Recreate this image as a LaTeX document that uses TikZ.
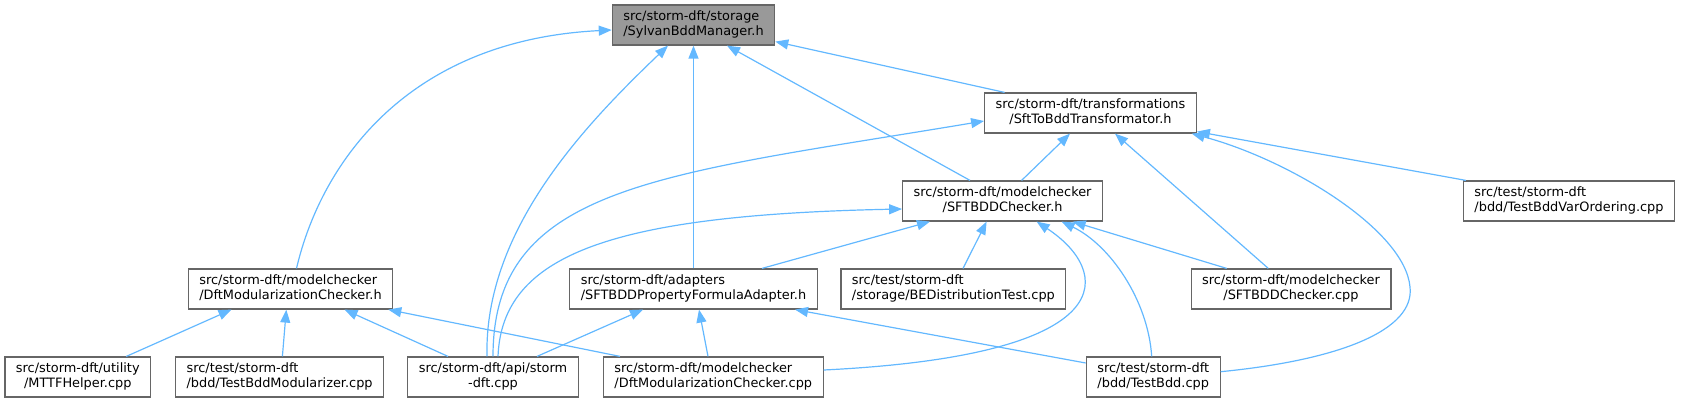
\documentclass[tikz,border=0pt]{standalone}
\usepackage{fontspec}
\setmainfont{DejaVu Sans}
\usetikzlibrary{arrows.meta}
\definecolor{edgeblue}{HTML}{63B8FF}
\definecolor{boxgray}{HTML}{666666}
\definecolor{hlgray}{HTML}{999999}
\newcommand\dlabel[2]{%
  \setbox0=\hbox{#1}\setbox2=\hbox{#2}%
  \dimen0=\wd0 \ifdim\wd2>\dimen0 \dimen0=\wd2 \fi
  \vbox{\baselineskip=15pt\lineskiplimit=-20pt\lineskip=0pt
    \hbox to\dimen0{\box0\hfil}\hbox to\dimen0{\hfil\box2\hfil}}}
\tikzset{
  box/.style={draw=boxgray, line width=1.2pt, fill=white, minimum height=40pt,
    inner xsep=11pt, inner ysep=0pt, text height=24.4pt, text depth=4pt,
    font=\fontsize{12.9pt}{15pt}\selectfont},
  hlbox/.style={box, fill=hlgray},
  link/.style={draw=edgeblue, line width=1.2pt, -{Triangle[length=13pt,width=10pt]}}
}
\begin{document}
\begin{tikzpicture}[x=1pt,y=-1pt]
\useasboundingbox (0,0) rectangle (1681,403);
% nodes
\node[hlbox] (S)    at (693.5,25)  {\dlabel{src/storm-dft/storage}{/SylvanBddManager.h}};
\node[box]   (T)    at (1090.5,113){\dlabel{src/storm-dft/transformations}{/SftToBddTransformator.h}};
\node[box]   (C)    at (1002.6,201){\dlabel{src/storm-dft/modelchecker}{/SFTBDDChecker.h}};
\node[box]   (VO)   at (1569,201)  {\dlabel{src/test/storm-dft}{/bdd/TestBddVarOrdering.cpp}};
\node[box]   (DMh)  at (290.5,289) {\dlabel{src/storm-dft/modelchecker}{/DftModularizationChecker.h}};
\node[box]   (AD)   at (693.5,289) {\dlabel{src/storm-dft/adapters}{/SFTBDDPropertyFormulaAdapter.h}};
\node[box]   (BE)   at (953.4,289) {\dlabel{src/test/storm-dft}{/storage/BEDistributionTest.cpp}};
\node[box]   (Ccpp) at (1291,289)  {\dlabel{src/storm-dft/modelchecker}{/SFTBDDChecker.cpp}};
\node[box]   (MT)   at (77.8,377)  {\dlabel{src/storm-dft/utility}{/MTTFHelper.cpp}};
\node[box]   (TBM)  at (279.6,377) {\dlabel{src/test/storm-dft}{/bdd/TestBddModularizer.cpp}};
\node[box]   (API)  at (493,377)   {\dlabel{src/storm-dft/api/storm}{-dft.cpp}};
\node[box]   (DMcpp) at (713.3,377){\dlabel{src/storm-dft/modelchecker}{/DftModularizationChecker.cpp}};
\node[box]   (TB)   at (1153.2,377){\dlabel{src/test/storm-dft}{/bdd/TestBdd.cpp}};
% edges into S
\draw[link] ([xshift=6pt]DMh.north) .. controls (322,160) and (410,40) .. ([yshift=-5pt]S.west);
\draw[link] ([xshift=-6pt]API.north) .. controls (484,230) and (585,125) .. ([xshift=-25.5pt]S.south);
\draw[link] (AD.north) -- (S.south);
\draw[link] ([xshift=-32.6pt]C.north) -- ([xshift=33.5pt]S.south);
\draw[link] ([xshift=20.5pt]T.north west) -- ([yshift=4pt]S.south east);
% edges into T
\draw[link] ([xshift=19pt]C.north) -- ([xshift=-20.5pt]T.south);
\draw[link] ([xshift=-22.7pt]Ccpp.north) -- ([xshift=24.5pt]T.south);
\draw[link] ([xshift=3pt]VO.north west) -- ([yshift=2pt]T.south east);
\draw[link] ([yshift=5.3pt]TB.east) .. controls (1340,360) and (1415,330) .. (1410,287)
  .. controls (1405,230) and (1290,160) .. ([xshift=101.2pt]T.south);
% edges into API from above
\draw[link] (API.north) .. controls (493,185) and (660,175) .. ([yshift=-8pt]T.west);
\draw[link] ([xshift=5pt]API.north) .. controls (502,255) and (610,215) .. ([yshift=-8pt]C.west);
% edges into C
\draw[link] ([xshift=68.5pt]AD.north) -- ([xshift=-72.6pt]C.south);
\draw[link] ([xshift=9.6pt]BE.north) -- ([xshift=-16pt]C.south);
\draw[link] ([yshift=7pt]DMcpp.east) .. controls (1130,355) and (1110,270) .. ([xshift=34pt]C.south);
\draw[link] ([xshift=-1.5pt]TB.north) .. controls (1148,300) and (1110,245) .. ([xshift=59pt]C.south);
\draw[link] ([xshift=-64.3pt]Ccpp.north) -- ([xshift=70pt]C.south);
% edges into AD
\draw[link] ([xshift=44pt]API.north) -- ([xshift=-50.5pt]AD.south);
\draw[link] ([xshift=-5.3pt]DMcpp.north) -- ([xshift=5.5pt]AD.south);
\draw[link] ([yshift=14pt]TB.west) -- ([xshift=101.5pt]AD.south);
% edges into DMh
\draw[link] ([xshift=-45pt]API.north) -- ([xshift=54pt]DMh.south);
\draw[link] ([xshift=48.5pt]MT.north) -- ([xshift=-59pt]DMh.south);
\draw[link] ([xshift=2.8pt]TBM.north) -- ([xshift=-4.2pt]DMh.south);
\draw[link] ([xshift=-93.3pt]DMcpp.north) -- ([xshift=-5pt]DMh.south east);
\end{tikzpicture}
\end{document}
